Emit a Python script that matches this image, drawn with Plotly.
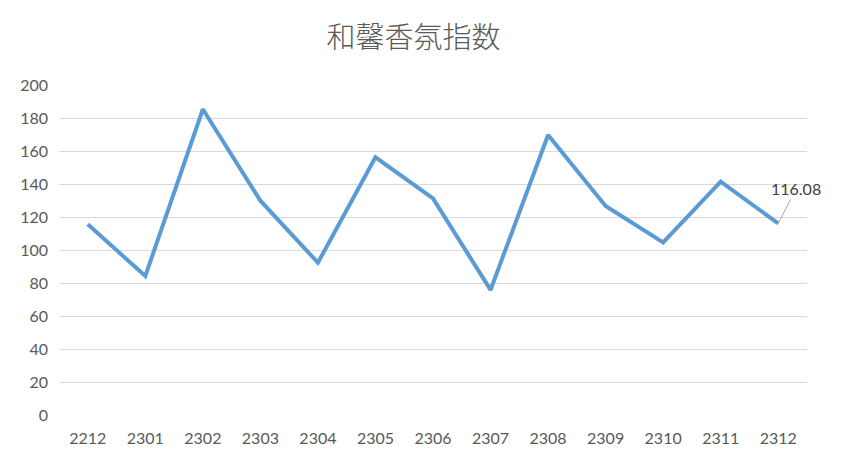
import plotly.graph_objects as go

categories = ["2212", "2301", "2302", "2303", "2304", "2305", "2306",
              "2307", "2308", "2309", "2310", "2311", "2312"]
values = [115.6, 84.2, 185.3, 129.9, 92.3, 156.2, 131.3,
          75.8, 169.7, 126.7, 104.6, 141.4, 116.08]
title_text = "和馨香氛指数"
y_ticks = [0, 20, 40, 60, 80, 100, 120, 140, 160, 180, 200]

fig = go.Figure()
fig.add_trace(go.Scatter(
    x=categories, y=values, mode="lines",
    line=dict(color="#5b9bd5", width=4, shape="linear"),
    hoverinfo="x+y", showlegend=False,
))

fig.add_annotation(
    x=len(categories) - 1, y=values[-1], xref="x", yref="y",
    text=f"{values[-1]:.2f}", showarrow=True, arrowhead=0,
    arrowcolor="#a6a6a6", arrowwidth=1, ax=18, ay=-35,
    font=dict(family="Lato, Liberation Sans, sans-serif", size=16, color="#404040"),
)

fig.update_layout(
    width=837, height=464,
    margin=dict(l=49, r=38, t=77, b=57),
    paper_bgcolor="white", plot_bgcolor="white",
    title=dict(text=title_text, x=0.4845, xanchor="center", y=0.935, yanchor="middle",
               font=dict(family="Noto Sans CJK JP, sans-serif", size=29,
                         color="#595959", weight=300)),
    font=dict(family="Lato, Liberation Sans, sans-serif", size=16, color="#595959"),
    xaxis=dict(type="category", range=[-0.5, 12.5], showgrid=False, zeroline=False,
               showline=False, ticks="", ticklabelstandoff=12,
               tickfont=dict(size=16, color="#595959")),
    yaxis=dict(range=[0, 200], tickvals=y_ticks, showgrid=True, gridcolor="#d9d9d9",
               gridwidth=1, zeroline=False, showline=False, ticks="",
               ticklabelstandoff=10, tickfont=dict(size=16, color="#595959")),
)

fig.write_html("out.html")
